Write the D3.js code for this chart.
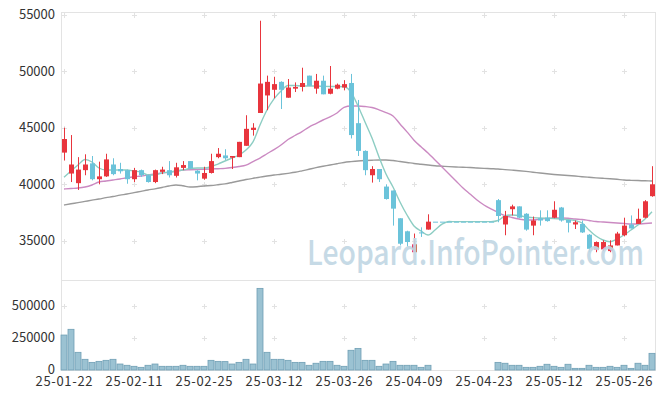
<!DOCTYPE html>
<html>
<head>
<meta charset="utf-8">
<script src="https://cdn.jsdelivr.net/npm/d3@7"></script>
<style>
  html, body { margin: 0; padding: 0; background: #fff; }
  text { font-family: "Noto Sans CJK KR", "Noto Sans", sans-serif; }
</style>
</head>
<body>
<div id="chart"></div>
<script>
const dates = [
  "25-01-22","25-01-23","25-01-24","25-01-31","25-02-03","25-02-04","25-02-05","25-02-06","25-02-07","25-02-10",
  "25-02-11","25-02-12","25-02-13","25-02-14","25-02-17","25-02-18","25-02-19","25-02-20","25-02-21","25-02-24",
  "25-02-25","25-02-26","25-02-27","25-02-28","25-03-04","25-03-05","25-03-06","25-03-07","25-03-10","25-03-11",
  "25-03-12","25-03-13","25-03-14","25-03-17","25-03-18","25-03-19","25-03-20","25-03-21","25-03-24","25-03-25",
  "25-03-26","25-03-27","25-03-28","25-03-31","25-04-01","25-04-02","25-04-03","25-04-04","25-04-07","25-04-08",
  "25-04-09","25-04-10","25-04-11","25-04-14","25-04-15","25-04-16","25-04-17","25-04-18","25-04-21","25-04-22",
  "25-04-23","25-04-24","25-04-25","25-04-28","25-04-29","25-04-30","25-05-02","25-05-07","25-05-08","25-05-09",
  "25-05-12","25-05-13","25-05-14","25-05-15","25-05-16","25-05-19","25-05-20","25-05-21","25-05-22","25-05-23",
  "25-05-26","25-05-27","25-05-28","25-05-29","25-05-30"
];

const open = [
  42800,40950,40100,41250,41850,40450,40700,41750,41350,41250,
  40450,41250,40800,40200,41100,41250,40750,41450,42050,41200,
  40500,41000,42400,42550,42350,42400,43400,44800,46300,47850,
  48350,49050,47650,48450,48600,49600,48450,49150,48000,48450,
  48550,48950,45400,42950,40800,41350,39800,39450,37000,35850,
  34000,35750,36000,36700,36700,36700,36700,36700,36700,36700,
  36700,36700,38600,36450,37800,38050,37400,36350,37000,37050,
  37050,37950,36850,36450,36500,35550,34250,34250,34100,34600,
  35500,36450,36500,37050,38950
];
const high = [
  45000,44350,42400,42650,42500,42000,42700,42300,41900,41300,
  41450,41300,40850,41300,41550,42050,41900,42050,42050,41250,
  41550,42700,43200,43100,42500,43750,46100,45400,54450,49600,
  49500,49100,49300,49000,50300,49600,49750,49600,50450,48900,
  49200,49750,47450,43000,41600,41350,40000,39450,37000,35900,
  35650,36200,37350,36700,36700,36700,36700,36700,36700,36700,
  36700,36700,38700,37650,38200,38050,37450,37150,37700,37700,
  38500,38000,36850,36800,36800,35600,34950,35050,35050,35800,
  37050,37250,37850,38600,41600
];
const low = [
  42100,40200,39500,40800,40350,40000,40650,40800,40950,40050,
  40200,40650,40150,40100,40900,40600,40600,41250,41400,40350,
  40400,40950,42300,42150,41350,42400,43400,44300,46300,46550,
  47600,46650,47650,48150,48200,48700,48000,47950,47950,48400,
  48300,44050,42500,40800,40150,40200,38650,36350,34600,34500,
  34000,35350,36000,36700,36700,36700,36700,36700,36700,36700,
  36700,36700,36650,35500,37250,37000,35900,35500,36350,36700,
  37000,36700,35750,36050,35700,34000,34000,34100,34000,34600,
  35400,36100,36500,37000,38900
];
const close = [
  44000,41750,41300,41750,40450,40700,42200,40900,41150,40450,
  41250,40800,40200,41250,41300,40800,41500,41700,41400,40950,
  41000,42050,42700,42300,42500,43750,44900,45000,48900,49050,
  48850,48350,48550,48600,48950,48700,49150,47950,48450,48800,
  48850,44350,42950,41250,41350,40450,38700,37850,34750,34900,
  34700,35750,36700,36700,36700,36700,36700,36700,36700,36700,
  36700,36700,37200,37200,38050,37050,36000,36800,36800,36750,
  37750,36800,36600,36650,35750,34300,34900,34900,34600,35650,
  36350,36100,36950,38500,40000
];
const volume = [
  275000,320000,139000,84000,60000,68000,76000,84000,47000,37000,
  29000,21000,37000,47000,29000,29000,29000,37000,29000,29000,
  29000,76000,68000,66000,47000,60000,84000,47000,642000,139000,
  84000,84000,76000,60000,60000,37000,53000,68000,68000,37000,
  29000,155000,170000,76000,76000,29000,47000,68000,37000,37000,
  37000,21000,37000,0,0,0,0,0,0,0,
  0,0,60000,53000,37000,37000,21000,21000,29000,45000,
  29000,21000,45000,13000,13000,37000,21000,21000,29000,21000,
  37000,13000,53000,37000,131000
];
const ma5 = [
  40620,41170,41700,42190,41970,41440,41260,41260,41260,41260,
  41170,41080,40820,40820,41000,41080,41170,41260,41400,41440,
  41440,41550,41790,42060,42320,42590,43030,43740,45240,46560,
  47540,48240,48730,48730,48680,48680,48680,48660,48640,48640,
  48620,48150,46920,45500,44090,42410,40910,39760,38440,37290,
  36320,35880,35520,35960,36480,36710,36700,36700,36700,36700,
  36700,36700,36800,37200,37290,37240,37110,37060,37020,37000,
  36980,36930,36890,36800,36580,35960,35430,35080,34930,35170,
  35520,35960,36410,36930,37580
];
const ma20 = [
  39580,39630,39670,39760,39940,40200,40290,40380,40470,40580,
  40670,40730,40820,40910,41000,41060,41150,41260,41290,41310,
  41330,41350,41380,41410,41480,41570,41700,42010,42320,42700,
  43070,43470,43960,44310,44660,45060,45370,45680,45950,46300,
  46800,46920,46920,46870,46780,46580,46330,46040,45330,44630,
  43900,43310,42770,42150,41530,40910,40290,39670,39140,38610,
  38170,37820,37510,37240,37070,36930,36850,36850,36930,36980,
  37020,37020,37000,36930,36890,36800,36710,36670,36630,36580,
  36540,36490,36490,36540,36580
];
const ma60 = [
  38170,38280,38380,38490,38600,38700,38820,38920,39040,39140,
  39260,39380,39500,39600,39720,39850,39940,39870,39760,39790,
  39850,39890,39960,40040,40160,40290,40420,40530,40630,40730,
  40820,40890,40970,41060,41190,41330,41470,41590,41700,41820,
  41930,42000,42060,42100,42130,42150,42150,42100,42010,41930,
  41840,41770,41700,41640,41600,41560,41530,41500,41480,41440,
  41410,41380,41350,41300,41250,41200,41140,41070,41000,40930,
  40870,40820,40780,40730,40670,40620,40570,40530,40490,40440,
  40380,40350,40330,40310,40290
];
const priceTicks = [35000, 40000, 45000, 50000, 55000];
const volumeTicks = [250000, 500000];
const dateTicks = ["25-01-22","25-02-11","25-02-25","25-03-12","25-03-26","25-04-09","25-04-23","25-05-12","25-05-26"];

const width = 665, height = 398;
const plotLeft = 61.5, plotRight = 655.5, plotTop = 12, plotSplit = 280, plotBottom = 370;

const svg = d3.select("#chart")
  .append("svg")
  .attr("width", width)
  .attr("height", height);

const x = d3.scaleBand().domain(dates).range([60.5, 655.5]).padding(0);
const cx = (d) => x(d) + x.bandwidth() / 2;
const y = d3.scaleLinear().domain([31546, 55221]).range([plotSplit, plotTop]);
const yv = d3.scaleLinear().domain([0, 700000]).range([plotBottom, plotSplit + 1]);

// frame
svg.append("rect")
  .attr("x", plotLeft).attr("y", plotTop + 0.5)
  .attr("width", plotRight - plotLeft).attr("height", plotBottom - plotTop)
  .attr("fill", "none").attr("stroke", "#e3e3e3");
svg.append("line")
  .attr("x1", plotLeft).attr("x2", plotRight)
  .attr("y1", plotSplit + 0.5).attr("y2", plotSplit + 0.5)
  .attr("stroke", "#e3e3e3");

// grid crosses
const crossYs = priceTicks.map((t) => y(t)).concat(volumeTicks.map((t) => yv(t)));
const crosses = [];
dateTicks.forEach((d) => crossYs.forEach((yy) => crosses.push([Math.round(cx(d)) + 0.5, Math.round(yy) + 0.5])));
const cg = svg.append("g").attr("stroke", "#e2e2e2").attr("stroke-width", 1);
cg.selectAll(".h").data(crosses).enter().append("line")
  .attr("x1", (d) => d[0] - 2.5).attr("x2", (d) => d[0] + 2.5)
  .attr("y1", (d) => d[1]).attr("y2", (d) => d[1]);
cg.selectAll(".v").data(crosses).enter().append("line")
  .attr("x1", (d) => d[0]).attr("x2", (d) => d[0])
  .attr("y1", (d) => d[1] - 2.5).attr("y2", (d) => d[1] + 2.5);

// volume bars
const volIdx = d3.range(dates.length).filter((i) => volume[i] > 0);
svg.append("g").selectAll("rect").data(volIdx).enter().append("rect")
  .attr("x", (i) => x(dates[i]) + 0.5)
  .attr("width", x.bandwidth() - 1)
  .attr("y", (i) => yv(volume[i]))
  .attr("height", (i) => plotBottom - yv(volume[i]))
  .attr("fill", "#9bc2d2")
  .attr("stroke", "#6f9fb4")
  .attr("stroke-width", 0.8);

// moving averages
const lineOf = (vals) => d3.line()
  .x((d, i) => cx(dates[i]))
  .y((d) => y(d))
  .curve(d3.curveMonotoneX)(vals);
[[ma60, "#9a9a9a"], [ma20, "#cb8ac2"], [ma5, "#8dcdc3"]].forEach(([vals, color]) => {
  svg.append("path")
    .attr("d", lineOf(vals))
    .attr("fill", "none")
    .attr("stroke", color)
    .attr("stroke-width", 1.4);
});

// candles
const up = (i) => close[i] > open[i];
const candles = svg.append("g").selectAll("g").data(dates).enter().append("g");
candles.append("line")
  .attr("x1", (d) => Math.round(cx(d)) + 0.5).attr("x2", (d) => Math.round(cx(d)) + 0.5)
  .attr("y1", (d, i) => y(high[i])).attr("y2", (d, i) => y(low[i]))
  .attr("stroke", (d, i) => up(i) ? "#e8353d" : "#6bc3da");
candles.append("rect")
  .attr("x", (d) => Math.round(cx(d)) - 2)
  .attr("width", 5)
  .attr("y", (d, i) => y(Math.max(open[i], close[i])))
  .attr("height", (d, i) => Math.max(1, Math.abs(y(open[i]) - y(close[i]))))
  .attr("fill", (d, i) => up(i) ? "#e8353d" : "#6bc3da");

// watermark, drawn over the marks
const mark = svg.append("text")
  .attr("x", 307).attr("y", 265)
  .style("font-size", "34px")
  .style("font-weight", 500)
  .style("fill", "#c2d7e4")
  .style("opacity", 0.92)
  .text("Leopard.InfoPointer.com");
const markW = mark.node().getComputedTextLength();
mark.attr("transform", `translate(307,0) scale(${337 / markW},1) translate(-307,0)`);

// axes labels
svg.append("g").selectAll("text").data(priceTicks).enter().append("text")
  .attr("x", 55).attr("y", (d) => y(d) + 4.5)
  .attr("text-anchor", "end")
  .style("font-size", "13px").style("fill", "#333")
  .text((d) => d);
svg.append("g").selectAll("text").data([0].concat(volumeTicks)).enter().append("text")
  .attr("x", 55).attr("y", (d) => yv(d) + 3.5)
  .attr("text-anchor", "end")
  .style("font-size", "13px").style("fill", "#333")
  .text((d) => d);
svg.append("g").selectAll("text").data(dateTicks).enter().append("text")
  .attr("x", (d) => cx(d)).attr("y", 385.5)
  .attr("text-anchor", "middle")
  .attr("textLength", 57).attr("lengthAdjust", "spacing")
  .style("font-size", "13px").style("fill", "#333")
  .text((d) => d);
</script>
</body>
</html>
